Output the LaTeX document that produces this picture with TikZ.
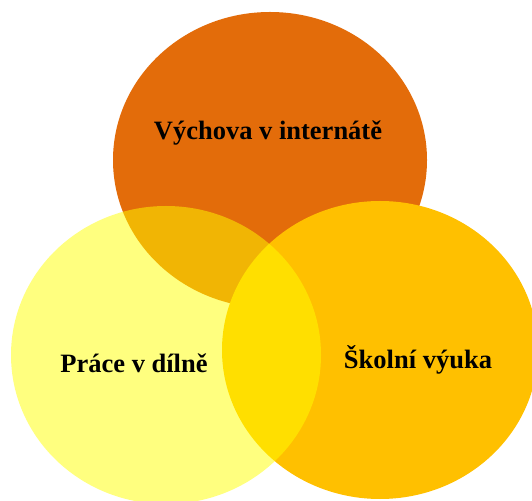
\documentclass[tikz,border=0pt]{standalone}
\usepackage{fontspec}
\setmainfont{Liberation Serif}
\usetikzlibrary{shapes.geometric}

\definecolor{vychova}{HTML}{E36C0A}
\definecolor{vyuka}{HTML}{FFC000}
\definecolor{dilna}{HTML}{FFFF00}

\tikzset{
    kruh/.style={ellipse, inner sep=0pt, outer sep=0pt, minimum width=312pt, minimum height=298pt},
    popis/.style={font=\fontsize{26.5}{30}\selectfont\bfseries, text=black}
}

\begin{document}
\begin{tikzpicture}[x=1pt, y=1pt]
        \useasboundingbox (0, 0) rectangle (532, 500);
        \clip (0, 0) rectangle (532, 500);
        \fill[white] (0, 0) rectangle (532, 500);

        \node[kruh, fill=vychova, minimum width=314pt, minimum height=296pt] at (270, 340)(internat){};
        \node[kruh, fill=vyuka, minimum width=316pt] at (380, 150)(skola){};
        \node[kruh, fill=dilna, fill opacity=0.5, minimum width=310pt] at (166, 145)(dilna){};

        \node[popis] at (268, 367)(tInternat){Výchova v internátě};
        \node[popis] at (134, 137)(tDilna){Práce v dílně};
        \node[popis] at (418, 140)(tSkola){Školní výuka};
    \end{tikzpicture}
\end{document}
